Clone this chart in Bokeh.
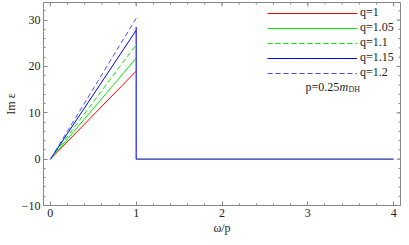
from bokeh.plotting import figure
from bokeh.models import Range1d, FixedTicker, Legend, LegendItem, Label
from bokeh.embed import file_html
from bokeh.resources import INLINE

# data
omega_ramp = [0, 1]
q_labels = ["q=1", "q=1.05", "q=1.1", "q=1.15", "q=1.2"]
im_at_1 = [19.0, 21.8, 24.7, 27.8, 30.4]
colors = ["#ff0000", "#00ee00", "#00ee00", "#0000ff", "#4d4dff"]
dashes = ["solid", "solid", "5 3", "solid", "5 3"]
drop_x = [1, 1]
drop_y = [28.5, 0]
flat_x = [1, 4]
flat_y = [0, 0]
x_ticks = [0, 1, 2, 3, 4]
x_minor = [round(i * 0.2, 1) for i in range(0, 21)]
y_ticks = [-10, 0, 10, 20, 30]
y_minor = list(range(-10, 34, 2))
x_lo, x_hi = -0.08, 4.08
y_lo, y_hi = -10, 33.8

FONT = "Liberation Serif"
W, H = 401, 237

p = figure(width=W, height=H, output_backend="svg", toolbar_location=None,
           x_range=Range1d(x_lo, x_hi), y_range=Range1d(y_lo, y_hi),
           min_border_left=0, min_border_right=1, min_border_top=2, min_border_bottom=0)
p.xgrid.visible = False
p.ygrid.visible = False
p.outline_line_color = "#888888"
p.background_fill_color = "white"
p.border_fill_color = "white"

for ax in (p.xaxis[0], p.yaxis[0]):
    ax.axis_line_color = "#888888"
    ax.major_tick_line_color = "#888888"
    ax.minor_tick_line_color = "#888888"
    ax.major_tick_in = 4
    ax.major_tick_out = 0
    ax.minor_tick_in = 2
    ax.minor_tick_out = 0
    ax.major_label_text_font = FONT
    ax.major_label_text_font_size = "12px"
    ax.major_label_text_color = "#222222"
    ax.axis_label_text_font = FONT
    ax.axis_label_text_font_size = "12px"
    ax.axis_label_text_font_style = "normal"
    ax.axis_label_text_color = "#222222"

p.xaxis.ticker = FixedTicker(ticks=x_ticks, minor_ticks=x_minor)
p.yaxis.ticker = FixedTicker(ticks=y_ticks, minor_ticks=y_minor)
p.xaxis.axis_label = "ω/p"
p.yaxis.axis_label = "Im ε"
p.yaxis.major_label_overrides = {-10: "−10"}
p.xaxis.major_label_standoff = 3
p.xaxis.axis_label_standoff = 1
p.yaxis.major_label_standoff = 3
p.yaxis.axis_label_standoff = 1

# mirrored ticks on top and right edges of the frame
tick_col = "#888888"
p.scatter([x_hi] * len(y_ticks), y_ticks, marker="dash", size=8, line_color=tick_col, line_width=1)
p.scatter([x_hi] * len(y_minor), y_minor, marker="dash", size=4, line_color=tick_col, line_width=1)
p.scatter(x_ticks, [y_hi] * len(x_ticks), marker="dash", angle=1.5708, size=8, line_color=tick_col, line_width=1)
p.scatter(x_minor, [y_hi] * len(x_minor), marker="dash", angle=1.5708, size=4, line_color=tick_col, line_width=1)

items = []
for lab, v, c, d in zip(q_labels, im_at_1, colors, dashes):
    r = p.line(omega_ramp, [0, v], line_color=c, line_width=1, line_dash=d)
    items.append(LegendItem(label=lab, renderers=[r]))

p.line(drop_x, drop_y, line_color="#1a1aff", line_width=1.2)
p.line(flat_x, flat_y, line_color="#1f2fa8", line_width=1.2)

leg = Legend(items=items, location=(224, 125), glyph_width=90, glyph_height=12,
             label_height=12, label_standoff=3, spacing=-1, padding=0, margin=0,
             border_line_alpha=0, background_fill_alpha=0,
             label_text_font=FONT, label_text_font_size="12px", label_text_color="#222222")
p.add_layout(leg, "center")

lab_y = 119
p.add_layout(Label(x=262, y=lab_y, x_units="screen", y_units="screen", text="p=0.25",
                   text_font=FONT, text_font_size="12px", text_color="#222222",
                   text_baseline="middle"))
p.add_layout(Label(x=296, y=lab_y, x_units="screen", y_units="screen", text="m",
                   text_font=FONT, text_font_size="12px", text_font_style="italic",
                   text_color="#222222", text_baseline="middle"))
p.add_layout(Label(x=305, y=lab_y - 3, x_units="screen", y_units="screen", text="DH",
                   text_font=FONT, text_font_size="8px", text_color="#222222",
                   text_baseline="middle"))

open("out.html", "w").write(file_html(p, INLINE))
